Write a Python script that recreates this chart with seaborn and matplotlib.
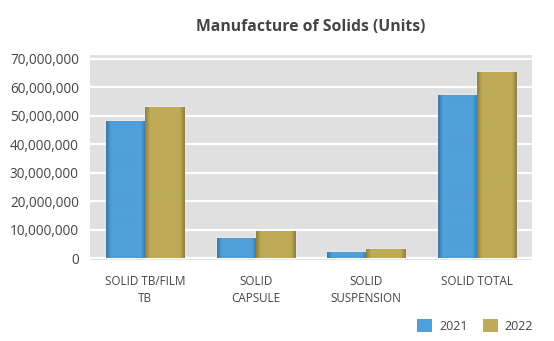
import numpy as np
import pandas as pd
import matplotlib
matplotlib.use("Agg")
import matplotlib.pyplot as plt
from matplotlib.ticker import FuncFormatter, MultipleLocator
from matplotlib.patches import Patch
import seaborn as sns

categories = ["SOLID TB/FILM\nTB", "SOLID\nCAPSULE", "SOLID\nSUSPENSION", "SOLID TOTAL"]
years = ["2021", "2022"]
units_2021 = [48_200_000, 7_300_000, 2_200_000, 57_400_000]
units_2022 = [53_200_000, 9_600_000, 3_300_000, 65_600_000]
colors = {"2021": "#4f9fd9", "2022": "#bfab57"}

df = pd.DataFrame({
    "category": categories * 2,
    "year": [years[0]] * 4 + [years[1]] * 4,
    "units": units_2021 + units_2022,
})

sns.set_theme(style="white")
plt.rcParams["font.family"] = ["Open Sans", "DejaVu Sans"]

fig = plt.figure(figsize=(5.54, 3.41), dpi=100)
ax = fig.add_axes([90 / 554, 1 - 260 / 341, 442 / 554, 205 / 341])
ax.set_facecolor("#e0e0e0")

sns.barplot(data=df, x="category", y="units", hue="year", palette=colors,
            width=0.71, gap=0, saturation=1, legend=False, ax=ax, zorder=3)

# soft darker shading along the sides of each bar
for bar in ax.patches:
    x0, y0 = bar.get_x(), bar.get_y()
    w, h = bar.get_width(), bar.get_height()
    base = np.array(matplotlib.colors.to_rgb(bar.get_facecolor()))
    t = np.linspace(0, 1, 60)
    edge = np.minimum(np.minimum(t, 1 - t) / 0.12, 1.0)
    shade = 0.75 + 0.25 * edge
    img = (base[None, :] * shade[:, None])[None, :, :]
    im = ax.imshow(img, extent=[x0, x0 + w, y0, y0 + h], aspect="auto",
                   zorder=4, interpolation="bilinear")
    im.set_clip_path(bar)

ax.set_xlim(-0.5, 3.5)
ax.set_ylim(-600_000, 71_400_000)
ax.yaxis.set_major_locator(MultipleLocator(10_000_000))
ax.yaxis.set_major_formatter(FuncFormatter(lambda v, _: f"{int(v):,}"))
ax.grid(axis="y", color="white", linewidth=1.6, zorder=1)
ax.set_axisbelow(True)
for s in ax.spines.values():
    s.set_visible(False)
ax.set_xlabel("")
ax.set_ylabel("")
ax.tick_params(axis="y", labelsize=9.8, colors="#444444", length=0, pad=8)
ax.tick_params(axis="x", labelsize=8.4, colors="#444444", length=0, pad=11)
for lbl in ax.get_yticklabels():
    lbl.set_horizontalalignment("right")
for lbl in ax.get_xticklabels():
    lbl.set_linespacing(1.4)

fig.text(311 / 554, 1 - 27 / 341, "Manufacture of Solids (Units)", ha="center",
         va="center", fontsize=11.3, fontweight="bold", color="#444444")

handles = [Patch(facecolor=colors[y], edgecolor="none", label=y) for y in years]
fig.legend(handles=handles, loc="center right", bbox_to_anchor=(533 / 554, 1 - 326 / 341),
           ncol=2, frameon=False, fontsize=9, handlelength=1.2, handleheight=1.2,
           handletextpad=0.55, columnspacing=1.2, borderpad=0, borderaxespad=0,
           labelcolor="#444444")

fig.savefig("out.png", dpi=100)
